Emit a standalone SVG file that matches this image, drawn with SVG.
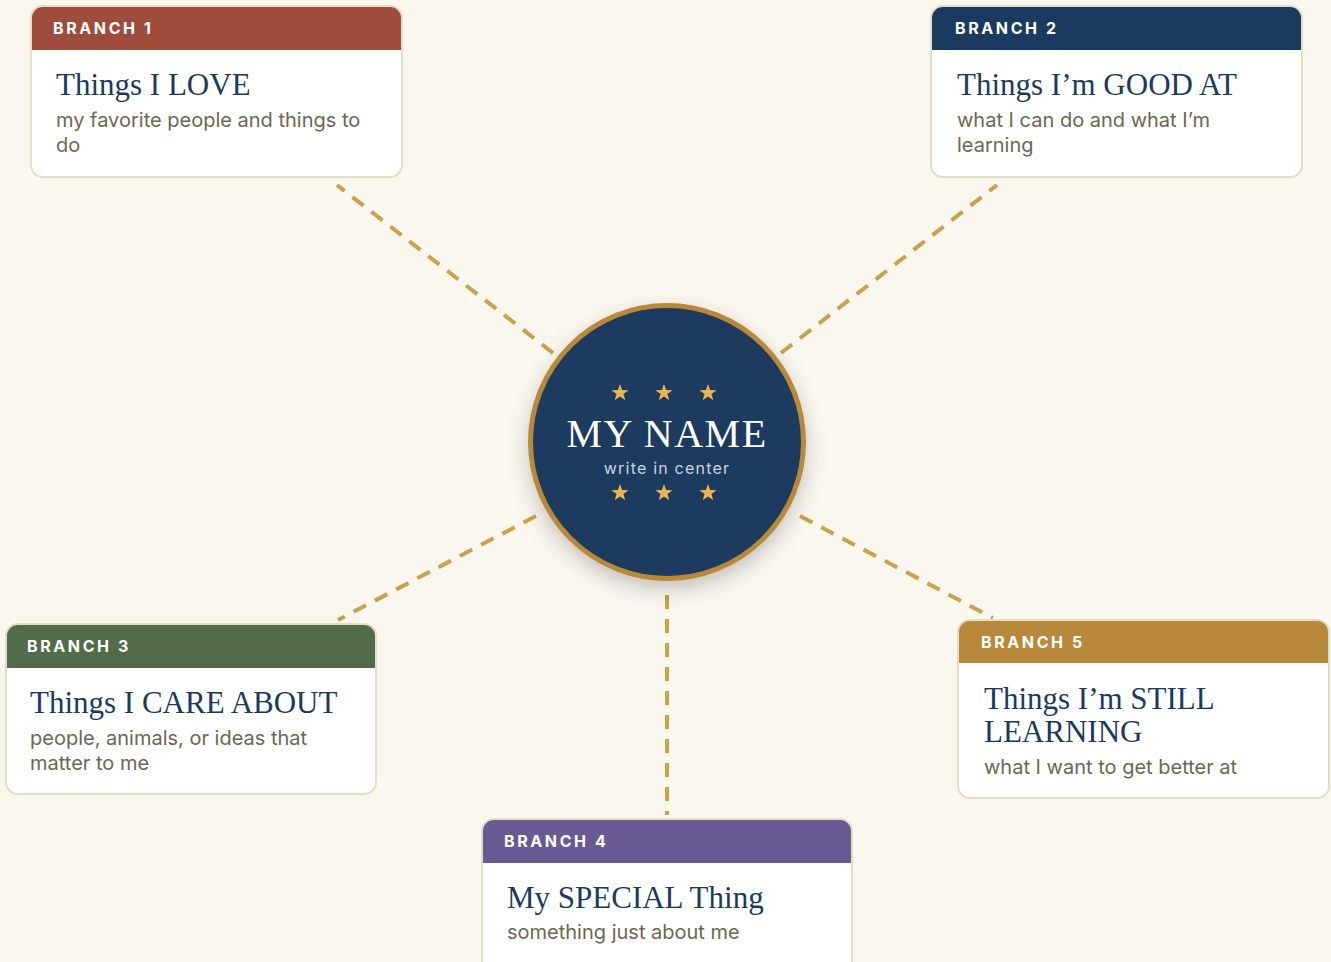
<svg xmlns="http://www.w3.org/2000/svg" width="1331" height="962" viewBox="0 0 1331 962">
  <defs>
    <style>
      .card { fill: #ffffff; }
      .edge { fill: none; stroke: #e7dcc5; stroke-width: 2; }
      .tag { font-family: Inter, "Liberation Sans", sans-serif; font-size: 16px; font-weight: 700; letter-spacing: 2.6px; fill: #ffffff; }
      .title { font-family: "Liberation Serif", "DejaVu Serif", serif; font-size: 31px; fill: #1b3a5f; }
      .body { font-family: Inter, "Liberation Sans", sans-serif; font-size: 20px; fill: #6e6651; }
      .link { fill: none; stroke: #c9a24a; stroke-width: 4; stroke-dasharray: 14 10; }
      .star { fill: #e8b54f; }
    </style>
    <polygon id="star" points="0,-9 2.12,-2.91 8.56,-2.78 3.42,1.11 5.29,7.28 0,3.6 -5.29,7.28 -3.42,1.11 -8.56,-2.78 -2.12,-2.91"/>
    <filter id="hubShadow" x="-30%" y="-30%" width="160%" height="170%">
      <feDropShadow dx="0" dy="8" stdDeviation="10" flood-color="#000000" flood-opacity="0.22"/>
    </filter>
  </defs>

  <rect width="1331" height="962" fill="#faf7ef"/>

  <!-- dashed spokes from the hub to each branch -->
  <g id="connectors">
    <line class="link" x1="553" y1="353" x2="337" y2="185"/>
    <line class="link" x1="781" y1="353" x2="997" y2="185"/>
    <line class="link" x1="536" y1="516" x2="338" y2="620"/>
    <line class="link" x1="667" y1="595" x2="667" y2="815"/>
    <line class="link" x1="800" y1="516" x2="993" y2="618"/>
  </g>

  <!-- central hub -->
  <g id="hub">
    <circle cx="667" cy="442" r="136.5" fill="#1b3a5f" stroke="#b8893a" stroke-width="5" filter="url(#hubShadow)"/>
    <use href="#star" class="star" x="620" y="393"/>
    <use href="#star" class="star" x="664" y="393"/>
    <use href="#star" class="star" x="708" y="393"/>
    <text x="667" y="447" text-anchor="middle" font-family="'Liberation Serif', 'DejaVu Serif', serif" font-size="40" letter-spacing="1.5" fill="#ffffff">MY NAME</text>
    <text x="667" y="474" text-anchor="middle" font-family="Inter, 'Liberation Sans', sans-serif" font-size="16" letter-spacing="1.2" fill="#c9d4e2">write in center</text>
    <use href="#star" class="star" x="620" y="493"/>
    <use href="#star" class="star" x="664" y="493"/>
    <use href="#star" class="star" x="708" y="493"/>
  </g>

  <!-- branch 1 -->
  <g id="branch1">
    <rect class="card" x="31" y="6" width="371" height="171" rx="12"/>
    <path d="M31,50 V18 A12,12 0 0 1 43,6 H390 A12,12 0 0 1 402,18 V50 Z" fill="#9e4c3c"/>
    <rect class="edge" x="31" y="6" width="371" height="171" rx="12"/>
    <text class="tag" x="53" y="34">BRANCH 1</text>
    <text class="title" x="56" y="95">Things I LOVE</text>
    <text class="body" x="56" y="127">my favorite people and things to</text>
    <text class="body" x="56" y="152">do</text>
  </g>

  <!-- branch 2 -->
  <g id="branch2">
    <rect class="card" x="931" y="6" width="371" height="171" rx="12"/>
    <path d="M931,50 V18 A12,12 0 0 1 943,6 H1290 A12,12 0 0 1 1302,18 V50 Z" fill="#1b3a5f"/>
    <rect class="edge" x="931" y="6" width="371" height="171" rx="12"/>
    <text class="tag" x="955" y="34">BRANCH 2</text>
    <text class="title" x="957" y="95">Things I’m GOOD AT</text>
    <text class="body" x="957" y="127">what I can do and what I’m</text>
    <text class="body" x="957" y="152">learning</text>
  </g>

  <!-- branch 3 -->
  <g id="branch3">
    <rect class="card" x="6" y="624" width="370" height="170" rx="12"/>
    <path d="M6,668 V636 A12,12 0 0 1 18,624 H364 A12,12 0 0 1 376,636 V668 Z" fill="#526b4a"/>
    <rect class="edge" x="6" y="624" width="370" height="170" rx="12"/>
    <text class="tag" x="27" y="652">BRANCH 3</text>
    <text class="title" x="30" y="713">Things I CARE ABOUT</text>
    <text class="body" x="30" y="745">people, animals, or ideas that</text>
    <text class="body" x="30" y="770">matter to me</text>
  </g>

  <!-- branch 4 -->
  <g id="branch4">
    <rect class="card" x="482" y="819" width="370" height="170" rx="12"/>
    <path d="M482,863 V831 A12,12 0 0 1 494,819 H840 A12,12 0 0 1 852,831 V863 Z" fill="#6a5a93"/>
    <rect class="edge" x="482" y="819" width="370" height="170" rx="12"/>
    <text class="tag" x="504" y="847">BRANCH 4</text>
    <text class="title" x="507" y="908">My SPECIAL Thing</text>
    <text class="body" x="507" y="939">something just about me</text>
  </g>

  <!-- branch 5 -->
  <g id="branch5">
    <rect class="card" x="958" y="620" width="371" height="178" rx="12"/>
    <path d="M958,663 V632 A12,12 0 0 1 970,620 H1317 A12,12 0 0 1 1329,632 V663 Z" fill="#b8893a"/>
    <rect class="edge" x="958" y="620" width="371" height="178" rx="12"/>
    <text class="tag" x="981" y="648">BRANCH 5</text>
    <text class="title" x="984" y="709">Things I’m STILL</text>
    <text class="title" x="984" y="742">LEARNING</text>
    <text class="body" x="984" y="774">what I want to get better at</text>
  </g>
</svg>
